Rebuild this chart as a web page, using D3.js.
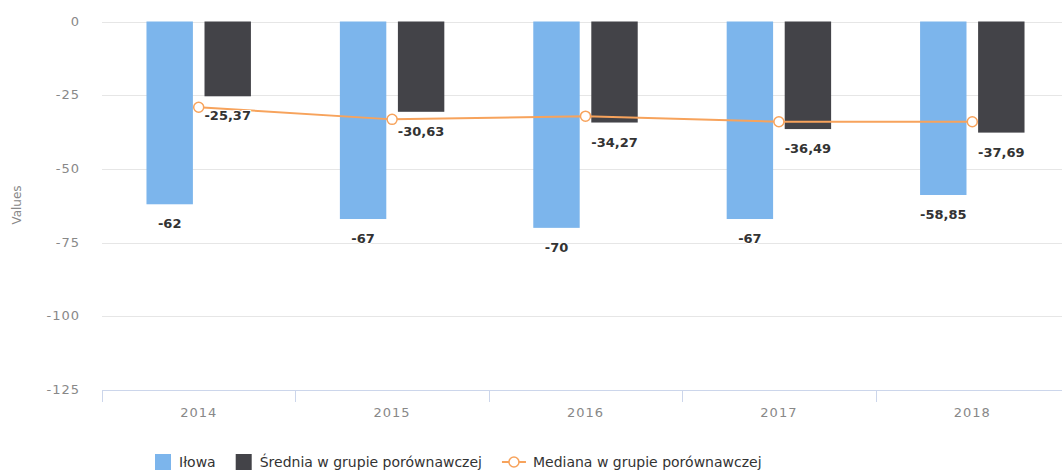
<!DOCTYPE html>
<html>
<head>
<meta charset="utf-8">
<script src="https://cdn.jsdelivr.net/npm/d3@7"></script>
<style>
  body { margin: 0; background: #fff; }
  svg { display: block; font-family: "DejaVu Sans", sans-serif; }
</style>
</head>
<body>
<div id="chart"></div>
<script>
  // chart data
  var years = ['2014', '2015', '2016', '2017', '2018'];
  var ilowa = [-62, -67, -70, -67, -58.85];
  var srednia = [-25.37, -30.63, -34.27, -36.49, -37.69];
  var mediana = [-29.1, -33.2, -32.1, -34.0, -34.0];
  var yTicks = [0, -25, -50, -75, -100, -125];

  var seriesNames = ['Iłowa', 'Średnia w grupie porównawczej', 'Mediana w grupie porównawczej'];
  var colors = ['#7cb5ec', '#434348', '#f7a35c'];

  var width = 1062, height = 470;
  var plot = { left: 102, right: 1069, top: 21.5, bottom: 390 };

  var svg = d3.select('#chart').append('svg')
    .attr('width', width)
    .attr('height', height);

  var x = d3.scaleBand()
    .domain(years)
    .range([plot.left, plot.right]);

  var inner = d3.scaleBand()
    .domain([0, 1])
    .range([x.bandwidth() * 0.2, x.bandwidth() * 0.8])
    .paddingInner(0.2)
    .paddingOuter(0.1);

  var y = d3.scaleLinear()
    .domain([-125, 0])
    .range([plot.bottom, plot.top]);

  function fmt(v) {
    return String(v).replace('.', ',');
  }

  // grid
  svg.append('g').attr('class', 'grid')
    .selectAll('line')
    .data(yTicks.slice(0, -1))
    .enter().append('line')
    .attr('x1', plot.left)
    .attr('x2', width)
    .attr('y1', function (d) { return Math.round(y(d)) + 0.5; })
    .attr('y2', function (d) { return Math.round(y(d)) + 0.5; })
    .attr('stroke', '#e6e6e6');

  // y axis labels
  svg.append('g')
    .selectAll('text')
    .data(yTicks)
    .enter().append('text')
    .attr('x', 80)
    .attr('y', function (d) { return y(d) + 4; })
    .attr('text-anchor', 'end')
    .attr('font-size', 13)
    .attr('letter-spacing', 1)
    .attr('fill', '#888')
    .text(function (d) { return d; });

  svg.append('text')
    .attr('transform', 'translate(21,' + 205 + ') rotate(-90)')
    .attr('text-anchor', 'middle')
    .attr('font-size', 12)
    .attr('fill', '#888')
    .text('Values');

  // x axis
  var xAxis = svg.append('g');
  xAxis.append('line')
    .attr('x1', plot.left).attr('x2', width)
    .attr('y1', plot.bottom + 0.5).attr('y2', plot.bottom + 0.5)
    .attr('stroke', '#ccd6eb');
  xAxis.selectAll('line.tick')
    .data(years)
    .enter().append('line')
    .attr('class', 'tick')
    .attr('x1', function (d) { return Math.round(x(d)) + 0.5; })
    .attr('x2', function (d) { return Math.round(x(d)) + 0.5; })
    .attr('y1', plot.bottom)
    .attr('y2', plot.bottom + 12)
    .attr('stroke', '#ccd6eb');
  xAxis.selectAll('text')
    .data(years)
    .enter().append('text')
    .attr('x', function (d) { return x(d) + x.bandwidth() / 2; })
    .attr('y', 417)
    .attr('text-anchor', 'middle')
    .attr('font-size', 13)
    .attr('letter-spacing', 1)
    .attr('fill', '#888')
    .text(function (d) { return d; });

  // bars
  var barSeries = [ilowa, srednia];
  barSeries.forEach(function (values, s) {
    var g = svg.append('g');
    g.selectAll('rect')
      .data(values)
      .enter().append('rect')
      .attr('x', function (d, i) { return x(years[i]) + inner(s); })
      .attr('width', inner.bandwidth())
      .attr('y', y(0))
      .attr('height', function (d) { return y(d) - y(0); })
      .attr('fill', colors[s]);
  });

  // median line
  var line = d3.line()
    .x(function (d, i) { return x(years[i]) + x.bandwidth() / 2; })
    .y(function (d) { return y(d); });

  svg.append('path')
    .datum(mediana)
    .attr('d', line)
    .attr('fill', 'none')
    .attr('stroke', colors[2])
    .attr('stroke-width', 2);

  svg.append('g')
    .selectAll('circle')
    .data(mediana)
    .enter().append('circle')
    .attr('cx', function (d, i) { return x(years[i]) + x.bandwidth() / 2; })
    .attr('cy', function (d) { return y(d); })
    .attr('r', 5)
    .attr('fill', '#fff')
    .attr('stroke', colors[2])
    .attr('stroke-width', 1.5);

  // data labels
  barSeries.forEach(function (values, s) {
    svg.append('g')
      .selectAll('text')
      .data(values)
      .enter().append('text')
      .attr('x', function (d, i) { return x(years[i]) + inner(s) + inner.bandwidth() / 2; })
      .attr('y', function (d) { return y(d) + 24; })
      .attr('text-anchor', 'middle')
      .attr('font-size', 13)
      .attr('font-weight', 'bold')
      .attr('fill', '#333')
      .attr('stroke', '#fff')
      .attr('stroke-width', 2)
      .attr('paint-order', 'stroke')
      .text(function (d) { return fmt(d); });
  });

  // legend
  var legend = svg.append('g').attr('transform', 'translate(155,0)');
  var lx = 0;
  seriesNames.forEach(function (name, s) {
    var item = legend.append('g').attr('transform', 'translate(' + lx + ',0)');
    var tx;
    if (s < 2) {
      item.append('rect')
        .attr('x', 0).attr('y', 454)
        .attr('width', 16).attr('height', 16)
        .attr('fill', colors[s]);
      tx = 24;
    } else {
      item.append('line')
        .attr('x1', 0).attr('x2', 24)
        .attr('y1', 462).attr('y2', 462)
        .attr('stroke', colors[2]).attr('stroke-width', 2);
      item.append('circle')
        .attr('cx', 12).attr('cy', 462).attr('r', 5)
        .attr('fill', '#fff').attr('stroke', colors[2]).attr('stroke-width', 1.5);
      tx = 31;
    }
    var t = item.append('text')
      .attr('x', tx).attr('y', 467)
      .attr('font-size', 14)
      .attr('fill', '#333')
      .text(name);
    lx += tx + t.node().getComputedTextLength() + 20;
  });
</script>
</body>
</html>
